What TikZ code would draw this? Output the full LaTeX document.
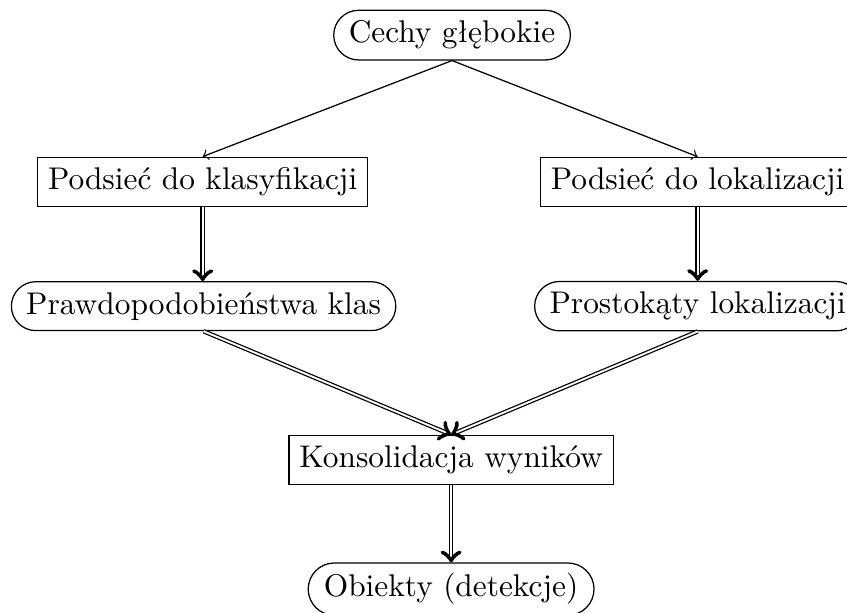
\documentclass[tikz,border=0pt]{standalone}
\usetikzlibrary{shapes.misc}
\begin{document}
\begin{tikzpicture}[x=1pt,y=1pt,
  boxnode/.style={draw,rectangle},
  roundnode/.style={draw,rounded rectangle},
  thinarrow/.style={->},
  dblarrow/.style={double,->}]
\useasboundingbox (0,0) rectangle (270,195.1);
\node[roundnode] (cechy) at (144.1,183.9) {Cechy głębokie};
\node[boxnode] (klas) at (64.6,137.1) {Podsieć do klasyfikacji};
\node[boxnode] (lok) at (222.4,137.1) {Podsieć do lokalizacji};
\node[roundnode] (prawd) at (64.9,97.5) {Prawdopodobieństwa klas};
\node[roundnode] (prost) at (222.4,97.5) {Prostokąty lokalizacji};
\node[boxnode] (kons) at (143.8,48.5) {Konsolidacja wyników};
\node[roundnode] (obj) at (143.8,7.3) {Obiekty (detekcje)};
\draw[thinarrow] (cechy.south) -- (klas.north);
\draw[thinarrow] (cechy.south) -- (lok.north);
\draw[dblarrow] (klas.south) -- (klas.south |- prawd.north);
\draw[dblarrow] (lok.south) -- (prost.north);
\draw[dblarrow] (prawd.south) -- (kons.north);
\draw[dblarrow] (prost.south) -- (kons.north);
\draw[dblarrow] (kons.south) -- (obj.north);
\end{tikzpicture}
\end{document}
